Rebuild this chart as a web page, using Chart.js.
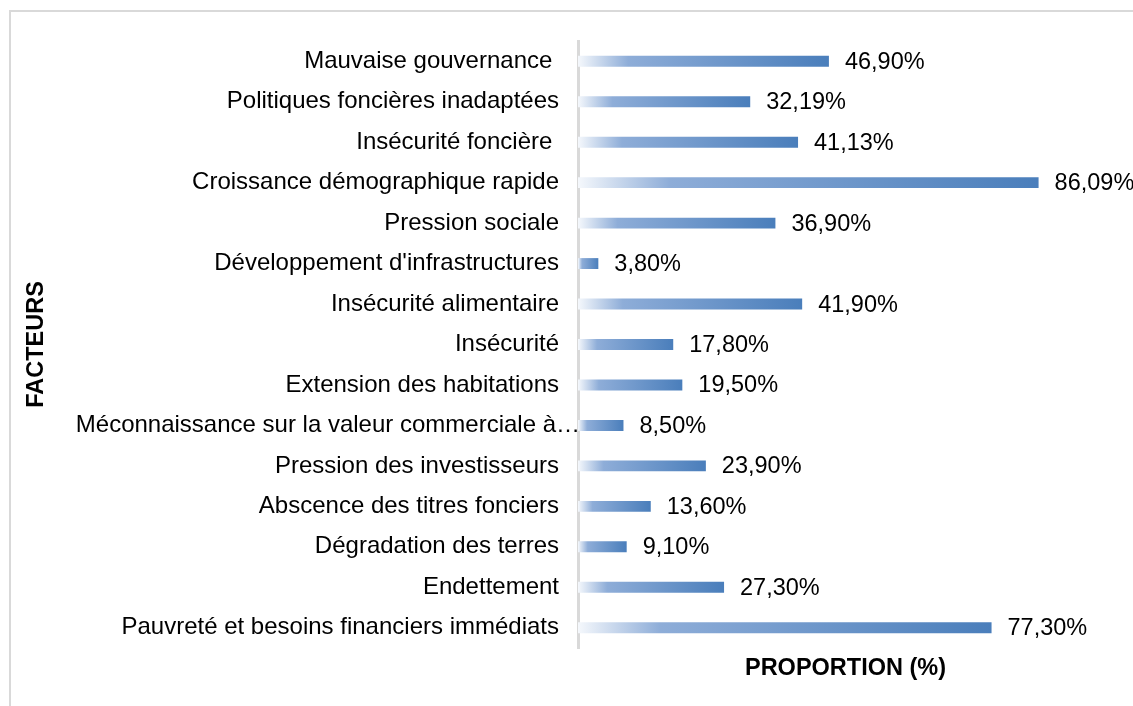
<!DOCTYPE html>
<html>
<head>
<meta charset="utf-8">
<script src="https://cdn.jsdelivr.net/npm/chart.js@4"></script>
<style>
  html, body { margin: 0; padding: 0; background: #fff; }
  #cadre { position: absolute; left: 9px; top: 10px; width: 1200px; height: 800px; border: 2px solid #d9d9d9; }
  #zone { position: absolute; left: 0; top: 0; width: 1133px; height: 706px; }
</style>
</head>
<body>
<div id="cadre"></div>
<div id="zone"><canvas id="graficoFacteurs"></canvas></div>
<script>
const facteurs = [
  "Mauvaise gouvernance ",
  "Politiques foncières inadaptées",
  "Insécurité foncière ",
  "Croissance démographique rapide",
  "Pression sociale",
  "Développement d'infrastructures",
  "Insécurité alimentaire",
  "Insécurité",
  "Extension des habitations",
  "Méconnaissance sur la valeur commerciale à…",
  "Pression des investisseurs",
  "Abscence des titres fonciers",
  "Dégradation des terres",
  "Endettement",
  "Pauvreté et besoins financiers immédiats"
];
const proportions = [46.90, 32.19, 41.13, 86.09, 36.90, 3.80, 41.90, 17.80, 19.50, 8.50, 23.90, 13.60, 9.10, 27.30, 77.30];

const police = "'Liberation Sans', Arial, sans-serif";
const tronque = 9; // libelle tronque, colle a l'axe

// degrade par barre, du blanc vers le bleu
function degrade(ctx) {
  const chart = ctx.chart;
  if (!chart.chartArea || !chart.scales.x) return "#4f81bd";
  const x = chart.scales.x;
  const x0 = x.getPixelForValue(0);
  const x1 = x.getPixelForValue(proportions[ctx.dataIndex]);
  if (x1 - x0 < 1) return "#4f81bd";
  const g = chart.ctx.createLinearGradient(x0, 0, x1, 0);
  g.addColorStop(0, "#f5f8fc");
  g.addColorStop(0.2, "#8eadd8");
  g.addColorStop(1, "#4a7ebb");
  return g;
}

const etiquettes = {
  id: "etiquettes",
  afterDatasetsDraw(chart) {
    const c = chart.ctx;
    const meta = chart.getDatasetMeta(0);
    c.save();
    c.font = "23.5px " + police;
    c.fillStyle = "#000";
    c.textAlign = "left";
    c.textBaseline = "middle";
    meta.data.forEach((bar, i) => {
      const txt = proportions[i].toFixed(2).replace(".", ",") + "%";
      c.fillText(txt, bar.x + 16, bar.y + 1);
    });
    // libelle tronque
    const y = chart.scales.y;
    c.font = "24px " + police;
    c.textAlign = "right";
    c.fillText(facteurs[tronque], y.right + 2, y.getPixelForTick(tronque));
    c.restore();
  }
};

document.addEventListener("DOMContentLoaded", () => {
  new Chart(document.querySelector("#graficoFacteurs"), {
    type: "bar",
    data: {
      labels: facteurs,
      datasets: [{
        label: "Proportion",
        data: proportions,
        backgroundColor: degrade,
        barPercentage: 0.27,
        categoryPercentage: 1
      }]
    },
    options: {
      indexAxis: "y",
      responsive: true,
      maintainAspectRatio: false,
      animation: false,
      layout: { padding: { top: 41, right: 20, bottom: 23, left: 22 } },
      plugins: { legend: { display: false }, tooltip: { enabled: false } },
      scales: {
        x: {
          min: 0,
          max: 100,
          grid: { display: false },
          border: { display: false },
          ticks: { display: false },
          title: {
            display: true,
            text: "PROPORTION (%)",
            color: "#000",
            font: { family: police, size: 23.5, weight: "bold" },
            padding: { top: 0, bottom: 0 }
          },
          afterFit(s) { s.height = 35; }
        },
        y: {
          grid: { display: false },
          border: { display: true, color: "#d9d9d9", width: 3 },
          ticks: {
            color: (ctx) => ctx.index === tronque ? "rgba(0,0,0,0)" : "#000",
            padding: 11,
            font: { family: police, size: 24 }
          },
          title: {
            display: true,
            text: "FACTEURS",
            color: "#000",
            font: { family: police, size: 23.5, weight: "bold" },
            padding: 0
          },
          afterFit(s) { s.width = 578 - 22; }
        }
      }
    },
    plugins: [etiquettes]
  });
});
</script>
</body>
</html>
